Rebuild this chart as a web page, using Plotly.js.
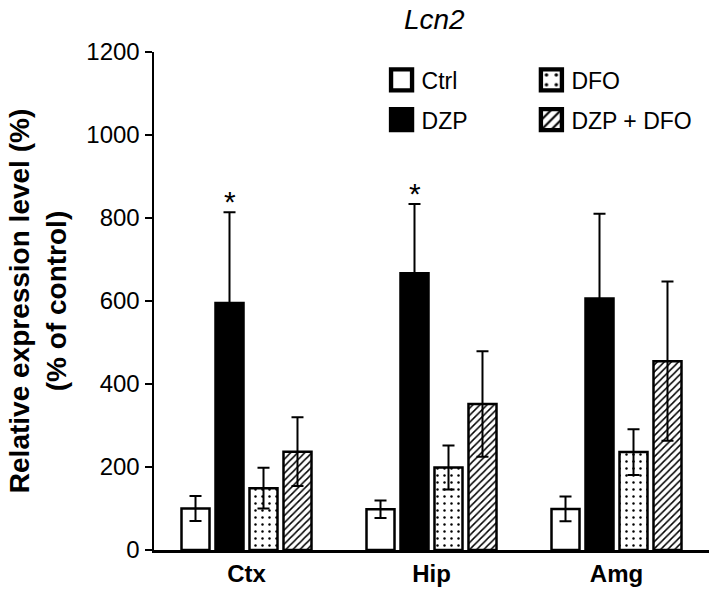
<!DOCTYPE html>
<html>
<head>
<meta charset="utf-8">
<script src="https://cdn.plot.ly/plotly-3.0.1.min.js"></script>
<style>html,body{margin:0;padding:0;background:#fff;}#chart{width:709px;height:594px;}</style>
</head>
<body>
<div id="chart"></div>
<script>
// ---- data ----
const categories = ['Ctx', 'Hip', 'Amg'];
const ctrlVals = [100, 98, 99];
const ctrlErr = [30, 21, 30];
const dzpVals = [595, 667, 606];
const dzpErr = [219, 167, 204];
const dfoVals = [149, 199, 236];
const dfoErr = [49, 53, 55];
const dzpDfoVals = [237, 352, 455];
const dzpDfoErr = [83, 127, 192];
const dzpSig = ['*', '*', ''];
const yTickVals = [0, 200, 400, 600, 800, 1000, 1200];

const FONT = 'Arial, "Liberation Sans", sans-serif';
const BARGAP = 0.265, GROUPGAP = 0.176;

function errBar(arr) {
  return {type: 'data', array: arr, visible: true, color: '#000', thickness: 2, width: 6};
}
const lineStyle = {color: '#000', width: 2.5};

const traces = [
  {type: 'bar', name: 'Ctrl', x: categories, y: ctrlVals, error_y: errBar(ctrlErr),
   marker: {color: '#fff', line: lineStyle}, legend: 'legend'},
  {type: 'bar', name: 'DZP', x: categories, y: dzpVals, error_y: errBar(dzpErr),
   marker: {color: '#000', line: lineStyle}, legend: 'legend2'},
  {type: 'bar', name: 'DFO', x: categories, y: dfoVals, error_y: errBar(dfoErr),
   marker: {color: '#fff', line: lineStyle,
            pattern: {shape: '.', fgcolor: '#000', bgcolor: '#fff', size: 7, solidity: 0.1}},
   legend: 'legend3'},
  {type: 'bar', name: 'DZP + DFO', x: categories, y: dzpDfoVals, error_y: errBar(dzpDfoErr),
   marker: {color: '#fff', line: lineStyle,
            pattern: {shape: '/', fgcolor: '#000', bgcolor: '#fff', size: 5, solidity: 0.3}},
   legend: 'legend4'}
];

const slot = (1 - BARGAP) / 4;
const annotations = [];
dzpSig.forEach((s, i) => {
  if (s) annotations.push({
    x: i - 0.5 * slot, y: dzpVals[i] + dzpErr[i], xref: 'x', yref: 'y',
    text: s, showarrow: false, yanchor: 'bottom', yshift: -8,
    font: {family: FONT, size: 30, color: '#000'}
  });
});

function leg(x, y) {
  return {x: x, y: y, xanchor: 'left', yanchor: 'middle', bgcolor: 'rgba(0,0,0,0)',
          font: {family: FONT, size: 23, color: '#000'}, borderwidth: 0};
}

const layout = {
  width: 709, height: 594,
  margin: {l: 154, r: 0, t: 52, b: 44},
  paper_bgcolor: '#fff', plot_bgcolor: '#fff',
  font: {family: FONT, size: 24, color: '#000'},
  title: {text: '<i>Lcn2</i>', x: 0.505, xref: 'paper', xanchor: 'center',
          y: 0.968, yref: 'container', yanchor: 'middle',
          font: {family: FONT, size: 28, color: '#000'}},
  barmode: 'group', bargap: BARGAP, bargroupgap: GROUPGAP,
  showlegend: true,
  legend: leg(0.41, 0.944),
  legend2: leg(0.41, 0.864),
  legend3: leg(0.68, 0.944),
  legend4: leg(0.68, 0.864),
  xaxis: {
    type: 'category', range: [-0.5, 2.5], showline: true, linecolor: '#000', linewidth: 2.5,
    ticks: '', showgrid: false, zeroline: false, fixedrange: true,
    tickfont: {family: FONT, size: 24, color: '#000', weight: 'bold'},
    ticklabelstandoff: 1
  },
  yaxis: {
    range: [0, 1200], tickvals: yTickVals, showline: true, linecolor: '#000', linewidth: 2.5,
    ticks: 'outside', ticklen: 7, tickwidth: 2.5, tickcolor: '#000',
    showgrid: false, zeroline: false, fixedrange: true,
    tickfont: {family: FONT, size: 24, color: '#000'},
    title: {text: 'Relative expression level (%)<br>(% of control)',
            font: {family: FONT, size: 28, color: '#000', weight: 'bold'}, standoff: 12}
  },
  annotations: annotations
};

Plotly.newPlot('chart', traces, layout, {displayModeBar: false, staticPlot: true}).then(() => {
  document.querySelectorAll('g.legendpoints path').forEach(p => {
    const t = p.getAttribute('transform') || '';
    p.setAttribute('transform', t + ' scale(1.75)');
  });
});
</script>
</body>
</html>
